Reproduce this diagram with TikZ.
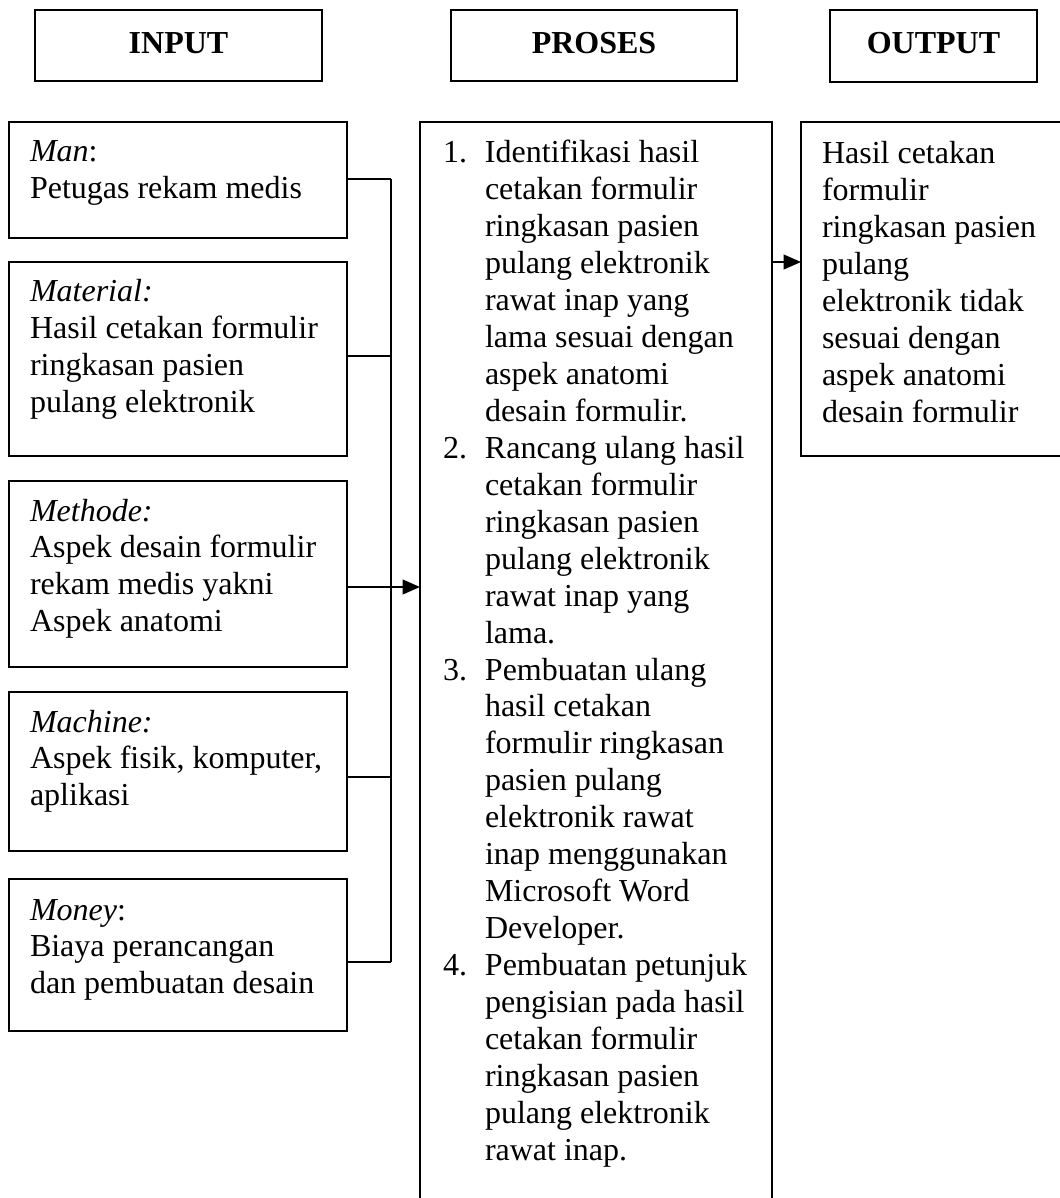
\documentclass[tikz,border=0pt]{standalone}
\usepackage{fontspec}
\setmainfont{Liberation Serif}
\usetikzlibrary{arrows.meta}

\begin{document}
\begin{tikzpicture}[x=0.375pt,y=0.375pt,yscale=-1,xscale=1,
  every node/.style={font=\fontsize{12}{13.85}\selectfont, inner sep=0pt, outer sep=0pt},
  box/.style 2 args={draw, line width=0.75pt, minimum width=#1*0.375pt, minimum height=#2*0.375pt},
  head/.style={font=\fontsize{12}{13.85}\selectfont\bfseries, text depth=2pt},
  txt/.style={anchor=base west},
  link/.style={line width=0.75pt},
  arr/.style={line width=0.75pt, -{Triangle[length=6.5pt,width=5.5pt]}}]
%set diagram size 1060 x 1198
\path[use as bounding box, clip] (0,0) rectangle (1060,1198);

%Shape: Rectangle (headers)
\node[box={287}{71}, head] (inputhead) at (178.5,45.5) {INPUT};
\node[box={286}{71}, head] (proseshead) at (594,45.5) {PROSES};
\node[box={207}{72}, head] (outputhead) at (933.5,46) {OUTPUT};

%Shape: Rectangle (input boxes)
\node[box={338}{116}] (man) at (178,180) {};
\node[box={338}{194}] (material) at (178,359) {};
\node[box={338}{186}] (methode) at (178,574) {};
\node[box={338}{159}] (machine) at (178,771.5) {};
\node[box={338}{152}] (money) at (178,955) {};

%Shape: Rectangle (proses, output)
\node[box={352}{1098}] (proses) at (596,671) {};
\node[box={274}{334}] (output) at (938,289) {};

% Text Node
\node[txt] (mantxt) at (30,162) {\begin{tabular}[t]{@{}l@{}}\textit{Man}:\\ Petugas rekam medis\end{tabular}};
% Text Node
\node[txt] (materialtxt) at (30,302) {\begin{tabular}[t]{@{}l@{}}\textit{Material:}\\ Hasil cetakan formulir\\ ringkasan pasien\\ pulang elektronik\end{tabular}};
% Text Node
\node[txt] (methodetxt) at (30,521) {\begin{tabular}[t]{@{}l@{}}\textit{Methode:}\\ Aspek desain formulir\\ rekam medis yakni\\ Aspek anatomi\end{tabular}};
% Text Node
\node[txt] (machinetxt) at (30,732) {\begin{tabular}[t]{@{}l@{}}\textit{Machine:}\\ Aspek fisik, komputer,\\ aplikasi\end{tabular}};
% Text Node
\node[txt] (moneytxt) at (30,920) {\begin{tabular}[t]{@{}l@{}}\textit{Money}:\\ Biaya perancangan\\ dan pembuatan desain\end{tabular}};

% Text Node
\node[txt] (prosestxt) at (443,163) {\begin{tabular}[t]{@{}p{15.75pt}@{}l@{}}
1. & Identifikasi hasil\\ & cetakan formulir\\ & ringkasan pasien\\ & pulang elektronik\\
   & rawat inap yang\\ & lama sesuai dengan\\ & aspek anatomi\\ & desain formulir.\\
2. & Rancang ulang hasil\\ & cetakan formulir\\ & ringkasan pasien\\ & pulang elektronik\\
   & rawat inap yang\\ & lama.\\
3. & Pembuatan ulang\\ & hasil cetakan\\ & formulir ringkasan\\ & pasien pulang\\
   & elektronik rawat\\ & inap menggunakan\\ & Microsoft Word\\ & Developer.\\
4. & Pembuatan petunjuk\\ & pengisian pada hasil\\ & cetakan formulir\\ & ringkasan pasien\\
   & pulang elektronik\\ & rawat inap.
\end{tabular}};

% Text Node
\node[txt] (outputtxt) at (822,164) {\begin{tabular}[t]{@{}l@{}}Hasil cetakan\\ formulir\\ ringkasan pasien\\ pulang\\ elektronik tidak\\ sesuai dengan\\ aspek anatomi\\ desain formulir\end{tabular}};

%Straight Lines (bus)
\coordinate (j1) at (391,179);
\coordinate (j2) at (391,356);
\coordinate (j3) at (391,587);
\coordinate (j4) at (391,777);
\coordinate (j5) at (391,962);
\coordinate (jout) at (786,262);
\draw[link] (j1 -| man.east) -- (j1);
\draw[link] (j2 -| material.east) -- (j2);
\draw[link] (j4 -| machine.east) -- (j4);
\draw[link] (j5 -| money.east) -- (j5);
\draw[link] (j1) -- (j5);
\draw[arr] (j3 -| methode.east) -- (j3 -| proses.west);
\draw[arr] (jout -| proses.east) -- (jout -| output.west);
\end{tikzpicture}
\end{document}
